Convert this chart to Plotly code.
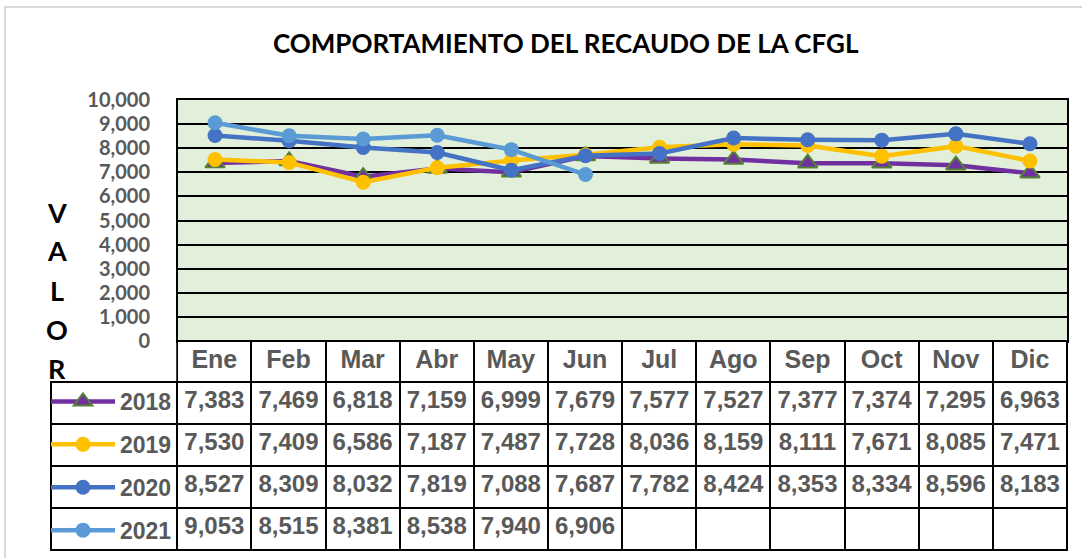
import plotly.graph_objects as go

W, H = 1082, 558

months = ["Ene", "Feb", "Mar", "Abr", "May", "Jun", "Jul", "Ago", "Sep", "Oct", "Nov", "Dic"]
years = ["2018", "2019", "2020", "2021"]
v2018 = [7383, 7469, 6818, 7159, 6999, 7679, 7577, 7527, 7377, 7374, 7295, 6963]
v2019 = [7530, 7409, 6586, 7187, 7487, 7728, 8036, 8159, 8111, 7671, 8085, 7471]
v2020 = [8527, 8309, 8032, 7819, 7088, 7687, 7782, 8424, 8353, 8334, 8596, 8183]
v2021 = [9053, 8515, 8381, 8538, 7940, 6906]

series = [v2018, v2019, v2020, v2021]
colors = ["#7030A0", "#FFC000", "#4472C4", "#5B9BD5"]
GRAY = "#595959"
NARROW = "Arial, Liberation Sans, sans-serif"
CALIBRI = "Lato, Arial, sans-serif"

# pixel -> paper helpers
px_x = lambda p: p / W
px_y = lambda p: 1 - p / H

fig = go.Figure()

for yr, vals, col in zip(years, series, colors):
    if yr == "2018":
        marker = dict(symbol="triangle-up", size=17, color=col, line=dict(color="#548235", width=2))
    else:
        marker = dict(symbol="circle", size=15, color=col)
    fig.add_trace(go.Scatter(
        x=months[:len(vals)], y=vals, name=yr, mode="lines+markers",
        line=dict(color=col, width=4.5), marker=marker, legendgroup=yr,
    ))

# data table below the plot
fmt = lambda v: f"{v:,}"
cols = [["", "", "", ""]]
for i, m in enumerate(months):
    cols.append([fmt(s[i]) if i < len(s) else "" for s in series])

fig.add_trace(go.Table(
    domain=dict(x=[px_x(51), px_x(1067)], y=[px_y(552), px_y(341)]),
    columnwidth=[126] + [74] * 12,
    header=dict(values=[""] + months, height=41, align="center",
                fill_color=["rgba(0,0,0,0)"] + ["white"] * 12,
                line=dict(color=["rgba(0,0,0,0)"] + ["black"] * 12, width=2),
                font=dict(family=NARROW, size=25, color=GRAY, weight="bold")),
    cells=dict(values=cols, height=42, align="center", fill_color="white",
               line=dict(color="black", width=2),
               font=dict(family=NARROW, size=24, color=GRAY, weight="bold")),
))

fig.update_layout(
    width=W, height=H,
    margin=dict(l=0, r=0, t=0, b=0, autoexpand=False),
    paper_bgcolor="white",
    plot_bgcolor="#E2EFDA",
    showlegend=True,
    legend=dict(x=px_x(46), y=px_y(380), xanchor="left", yanchor="top",
                bgcolor="rgba(0,0,0,0)", itemwidth=64, tracegroupgap=10,
                traceorder="grouped", itemclick=False,
                font=dict(family=NARROW, size=23, color=GRAY, weight="bold")),
    xaxis=dict(domain=[px_x(178), px_x(1067)], type="category", categoryarray=months,
               range=[-0.5, 11.5], showticklabels=False, showgrid=False, automargin=False,
               showline=True, linecolor="black", linewidth=2, mirror=True, zeroline=False),
    yaxis=dict(domain=[px_y(341), px_y(100)], range=[0, 10000], dtick=1000, automargin=False,
               tickformat=",d", showgrid=True, gridcolor="black", gridwidth=2,
               showline=True, linecolor="black", linewidth=2, mirror=True, zeroline=False,
               ticks="", ticklabelstandoff=22,
               tickfont=dict(family=CALIBRI, size=20, color=GRAY, weight="bold")),
)

fig.add_annotation(text="<b>COMPORTAMIENTO DEL RECAUDO DE LA CFGL</b>", xref="paper", yref="paper",
                   x=px_x(566), y=px_y(43), xanchor="center", yanchor="middle", showarrow=False,
                   font=dict(family=CALIBRI, size=26, color="black"))

for i, ch in enumerate("VALOR"):
    fig.add_annotation(text=f"<b>{ch}</b>", xref="paper", yref="paper",
                       x=px_x(57), y=px_y(212 + i * 39), xanchor="center", yanchor="middle",
                       showarrow=False, font=dict(family=CALIBRI, size=27, color="black"))

# chart area border
fig.add_shape(type="rect", xref="paper", yref="paper", x0=px_x(5), x1=px_x(1090), y0=px_y(560), y1=px_y(7),
              line=dict(color="#D9D9D9", width=2), layer="below")

fig.write_html("out.html", config={"displayModeBar": False},
               post_script="document.body.style.margin='0';")
